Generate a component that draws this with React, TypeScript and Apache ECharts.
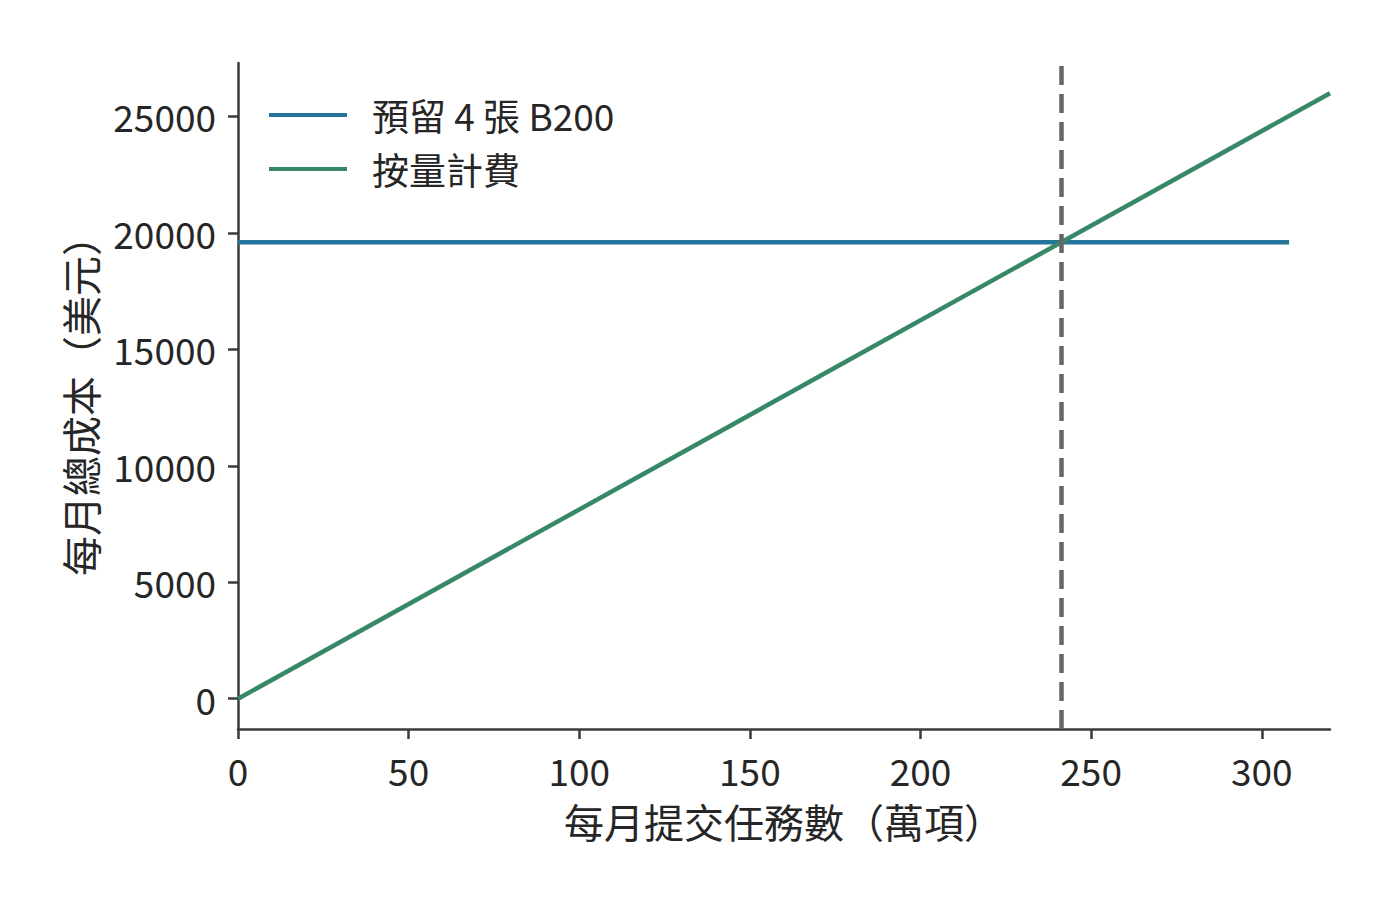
import React, { useEffect, useRef } from "react";
import * as echarts from "echarts";

const reservedName = "預留 4 張 B200";
const payName = "按量計費";
const xAxisName = "每月提交任務數（萬項）";
const yAxisName = "每月總成本（美元）";

const reservedX = [0, 308];
const reservedY = [19600, 19600];
const payX = [0, 320];
const payY = [0, 25990];
const breakEven = [241.2];
const yTicks = [0, 5000, 10000, 15000, 20000, 25000];

const FONT = "'Noto Sans CJK TC', 'Noto Sans CJK SC', sans-serif";
const TXT = "#262626";
const AX = "#3b3b3b";
const BLUE = "#23759b";
const GREEN = "#368866";

export default function App() {
  const ref = useRef<HTMLDivElement>(null);
  useEffect(() => {
    if (!ref.current) return;
    const chart = echarts.init(ref.current, undefined, { renderer: "svg" });
    chart.setOption({
      animation: false,
      backgroundColor: "#ffffff",
      textStyle: { fontFamily: FONT, color: TXT },
      grid: { left: 238, right: 70, top: 63, bottom: 183, containLabel: false },
      legend: {
        orient: "vertical",
        left: 264,
        top: 91,
        icon: "rect",
        itemWidth: 78,
        itemHeight: 4,
        itemGap: 16,
        textStyle: { fontFamily: FONT, fontSize: 37, lineHeight: 38, color: TXT, padding: [0, 0, 0, 20] },
        data: [
          { name: reservedName, itemStyle: { color: BLUE } },
          { name: payName, itemStyle: { color: GREEN } },
        ],
      },
      xAxis: {
        type: "value",
        min: 0,
        max: 320,
        interval: 50,
        name: xAxisName,
        nameLocation: "middle",
        nameGap: 72,
        nameTextStyle: { fontFamily: FONT, fontSize: 40, color: TXT },
        axisLine: { show: true, onZero: false, lineStyle: { color: AX, width: 2.5 } },
        axisTick: { show: true, length: 10, lineStyle: { color: AX, width: 2.5 } },
        axisLabel: { fontFamily: FONT, fontSize: 37, color: TXT, margin: 22, showMaxLabel: false },
        splitLine: { show: false },
      },
      yAxis: {
        type: "value",
        min: -1300,
        max: 27290,
        name: yAxisName,
        nameLocation: "middle",
        nameGap: 138,
        nameRotate: 90,
        nameTextStyle: { fontFamily: FONT, fontSize: 40, color: TXT },
        axisLine: { show: true, onZero: false, lineStyle: { color: AX, width: 2.5 } },
        axisTick: { show: true, length: 10, lineStyle: { color: AX, width: 2.5 }, customValues: yTicks },
        axisLabel: {
          fontFamily: FONT,
          fontSize: 37,
          color: TXT,
          margin: 22,
          customValues: yTicks,
          formatter: (v: number) => String(v),
        },
        splitLine: { show: false },
      },
      series: [
        {
          name: reservedName,
          type: "line",
          data: reservedX.map((x, i) => [x, reservedY[i]]),
          symbol: "none",
          lineStyle: { color: BLUE, width: 4.5 },
          itemStyle: { color: BLUE },
          z: 2,
        },
        {
          name: payName,
          type: "line",
          data: payX.map((x, i) => [x, payY[i]]),
          symbol: "none",
          lineStyle: { color: GREEN, width: 4.5 },
          itemStyle: { color: GREEN },
          z: 3,
          markLine: {
            silent: true,
            symbol: "none",
            label: { show: false },
            lineStyle: { color: "#666666", width: 4.5, type: [19, 9] },
            data: breakEven.map((v) => ({ xAxis: v })),
          },
        },
      ],
    });
    return () => chart.dispose();
  }, []);
  return <div ref={ref} style={{ width: 1400, height: 912, position: "absolute", left: 0, top: 0 }} />;
}
